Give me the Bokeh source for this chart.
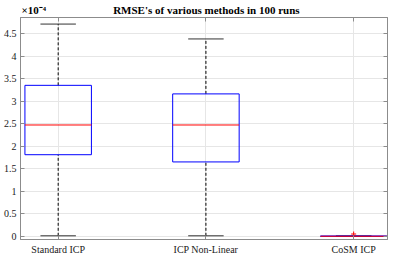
from bokeh.plotting import figure
from bokeh.models import Range1d, FixedTicker, LinearAxis, ColumnDataSource
from bokeh.embed import file_html
from bokeh.resources import INLINE

# Data (values in units of 1e-4)
categories = ["Standard ICP", "ICP Non-Linear", "CoSM ICP"]
positions = [1, 2, 3]
lower_whisker = [0.01, 0.01, 0.0]
q1 = [1.81, 1.65, 0.0]
median = [2.47, 2.47, 0.0]
q3 = [3.35, 3.16, 0.004]
upper_whisker = [4.71, 4.38, 0.006]
outlier_x = [3]
outlier_y = [0.05]
y_ticks = [0, 0.5, 1, 1.5, 2, 2.5, 3, 3.5, 4, 4.5]
y_tick_labels = ["0", "0.5", "1", "1.5", "2", "2.5", "3", "3.5", "4", "4.5"]
title_text = "RMSE's of various methods in 100 runs"
exponent_text = "×10⁻⁴"

FONT = "Liberation Serif"
box_w = 0.45
cap_w = 0.24
X0, X1 = 0.745, 3.229
Y0, Y1 = -0.072, 4.856
EXP_POS = 0.835
TITLE_POS = 2.003

p = figure(width=391, height=257, output_backend="svg", toolbar_location=None, title=None,
           x_range=Range1d(X0, X1), y_range=Range1d(Y0, Y1),
           min_border_left=20, min_border_right=4, min_border_top=1, min_border_bottom=4)

src = ColumnDataSource(dict(x=positions, lw=lower_whisker, q1=q1, med=median, q3=q3, uw=upper_whisker,
                            left=[v - box_w / 2 for v in positions], right=[v + box_w / 2 for v in positions],
                            cl=[v - cap_w / 2 for v in positions], cr=[v + cap_w / 2 for v in positions]))

# whiskers
p.segment(x0="x", y0="q3", x1="x", y1="uw", source=src, line_color="black", line_dash="3 2", line_width=1)
p.segment(x0="x", y0="lw", x1="x", y1="q1", source=src, line_color="black", line_dash="3 2", line_width=1)
# caps
p.segment(x0="cl", y0="uw", x1="cr", y1="uw", source=src, line_color="#333333", line_width=1)
p.segment(x0="cl", y0="lw", x1="cr", y1="lw", source=src, line_color="#333333", line_width=1)
# boxes
p.quad(left="left", right="right", bottom="q1", top="q3", source=src, fill_color=None,
       line_color="#0000ff", line_width=1)
# medians
p.segment(x0="left", y0="med", x1="right", y1="med", source=src, line_color="#ff0000", line_width=1)
# outliers
p.scatter(outlier_x, outlier_y, marker="cross", size=5, line_color="#ff0000", line_width=1)

# axes styling
p.xaxis.ticker = FixedTicker(ticks=positions)
p.xaxis.major_label_overrides = {pp: c for pp, c in zip(positions, categories)}
p.yaxis.ticker = FixedTicker(ticks=y_ticks)
p.yaxis.major_label_overrides = {t: l for t, l in zip(y_ticks, y_tick_labels)}
for ax in [p.xaxis[0], p.yaxis[0]]:
    ax.major_label_text_font = FONT
    ax.major_label_text_font_size = "10px"
    ax.major_label_text_color = "#1a1a1a"
    ax.axis_line_color = "#8c8c8c"
    ax.major_tick_line_color = "#8c8c8c"
    ax.major_tick_in = 4
    ax.major_tick_out = 0
    ax.minor_tick_line_color = None
    ax.major_label_standoff = 4

ra = LinearAxis(ticker=FixedTicker(ticks=y_ticks), major_label_text_color=None,
                axis_line_color="#8c8c8c", major_tick_line_color="#8c8c8c",
                major_tick_in=4, major_tick_out=0, minor_tick_line_color=None,
                major_label_standoff=0)
ra.major_label_overrides = {t: "" for t in y_ticks}
p.add_layout(ra, "right")

# top axis with inward ticks at the categories
ta = LinearAxis(ticker=FixedTicker(ticks=positions), major_label_text_color=None,
                axis_line_color="#8c8c8c", major_tick_line_color="#8c8c8c",
                major_tick_in=4, major_tick_out=0, minor_tick_line_color=None,
                major_label_standoff=0, major_label_text_font_size="2px")
ta.major_label_overrides = {pp: "" for pp in positions}
p.add_layout(ta, "above")

# top text row: exponent marker and title
tt = LinearAxis(ticker=FixedTicker(ticks=[EXP_POS, TITLE_POS]),
                axis_line_color=None, major_tick_line_color=None, minor_tick_line_color=None,
                major_tick_in=0, major_tick_out=0, major_label_standoff=2,
                major_label_text_font=FONT, major_label_text_font_size="11px",
                major_label_text_font_style="bold", major_label_text_color="#000000")
tt.major_label_overrides = {EXP_POS: exponent_text, TITLE_POS: title_text}
p.add_layout(tt, "above")

p.xgrid.ticker = FixedTicker(ticks=positions)
p.xgrid.grid_line_color = "#e6e6e6"
p.ygrid.grid_line_color = "#e6e6e6"
p.outline_line_color = "#8c8c8c"

open("out.html", "w").write(file_html(p, INLINE))
